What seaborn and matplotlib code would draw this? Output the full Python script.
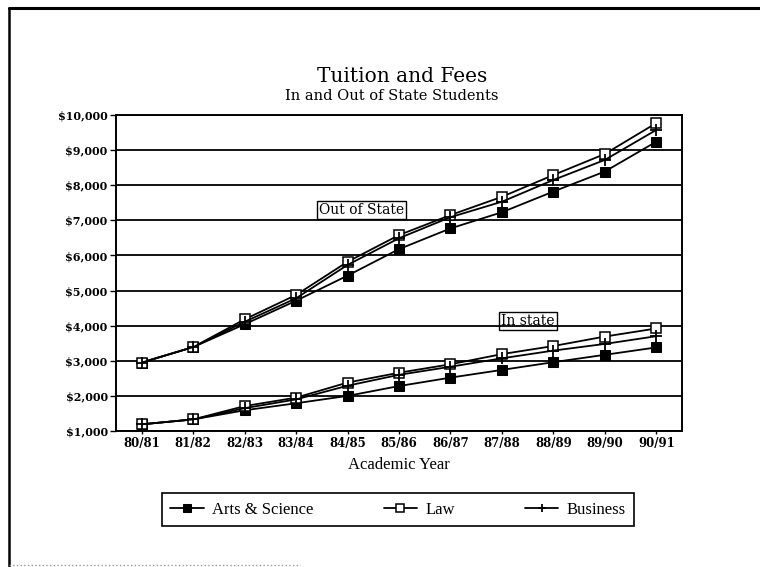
import pandas as pd
import seaborn as sns
import matplotlib.pyplot as plt
import matplotlib.ticker as ticker
from matplotlib.lines import Line2D

#Academic years on the x axis
years = ["80/81", "81/82", "82/83", "83/84", "84/85", "85/86",
         "86/87", "87/88", "88/89", "89/90", "90/91"]

#Out of state tuition and fees
arts_out = [2950, 3390, 4040, 4710, 5425, 6180, 6770, 7230, 7820, 8390, 9240]
law_out = [2950, 3390, 4180, 4875, 5820, 6580, 7150, 7670, 8290, 8890, 9770]
business_out = [2950, 3390, 4110, 4780, 5730, 6490, 7090, 7530, 8150, 8720, 9575]

#In state tuition and fees
arts_in = [1190, 1330, 1590, 1790, 2000, 2280, 2520, 2740, 2960, 3170, 3380]
law_in = [1190, 1330, 1710, 1950, 2380, 2660, 2900, 3190, 3420, 3690, 3920]
business_in = [1190, 1330, 1650, 1900, 2290, 2600, 2830, 3070, 3290, 3480, 3700]

schools = ["Arts & Science", "Law", "Business"]

df = pd.DataFrame({
    "Year": years * 6,
    "Cost": arts_out + law_out + business_out + arts_in + law_in + business_in,
    "School": [s for s in schools for _ in years] * 2,
    "Residency": ["Out of State"] * 33 + ["In state"] * 33,
})

sns.set_theme(style="white")
plt.rcParams["font.family"] = ["DejaVu Serif"]

fig = plt.figure(figsize=(7.6, 5.67), dpi=100)
ax = fig.add_axes([116 / 760, 1 - 431 / 567, 566 / 760, 316 / 567])

#marker style per school
styles = {
    "Arts & Science": dict(marker="s", markersize=6.5, markerfacecolor="black", markeredgecolor="black"),
    "Law": dict(marker="s", markersize=7, markerfacecolor="white", markeredgecolor="black", markeredgewidth=1.1),
    "Business": dict(marker="+", markersize=8, markeredgecolor="black", markeredgewidth=1.3),
}

for school in schools:
    for residency in ["Out of State", "In state"]:
        sub = df[(df["School"] == school) & (df["Residency"] == residency)]
        sns.lineplot(
            data=sub, x="Year", y="Cost", ax=ax, color="black", linewidth=1.3,
            label=school if residency == "Out of State" else None,
            legend=False, zorder=3, **styles[school]
        )

#axes and grid
ax.set_xlim(-0.5, 10.5)
ax.set_ylim(1000, 10000)
ax.yaxis.set_major_locator(ticker.MultipleLocator(1000))
ax.yaxis.set_major_formatter(ticker.FuncFormatter(lambda x, pos: f"${int(x):,}"))
ax.yaxis.grid(True, color="black", linewidth=1.3)
ax.xaxis.grid(False)
for spine in ax.spines.values():
    spine.set_color("black")
    spine.set_linewidth(1.4)

ax.tick_params(axis="y", direction="out", length=4, width=1, color="black", pad=2, left=True)
ax.tick_params(axis="x", direction="out", length=2.5, width=1, color="black", pad=2, bottom=True)
for label in ax.get_yticklabels() + ax.get_xticklabels():
    label.set_fontweight("bold")
    label.set_fontsize(8)
    label.set_color("black")
for label in ax.get_xticklabels():
    label.set_fontsize(8.5)

ax.set_xlabel("Academic Year", family="Liberation Serif", fontsize=12, color="black", labelpad=5)
ax.set_ylabel("")

#labels for the two groups of lines
ax.text(4.27, 7300, "Out of State", ha="center", va="center", fontsize=10, color="black",
        bbox=dict(boxstyle="square,pad=0.15", fc="white", ec="black", lw=1), zorder=4)
ax.text(7.51, 4134, "In state", ha="center", va="center", fontsize=10, color="black",
        bbox=dict(boxstyle="square,pad=0.15", fc="none", ec="black", lw=1), zorder=4)

#titles
fig.text(402 / 760, 1 - 76 / 567, "Tuition and Fees", ha="center", va="center", fontsize=14.5, color="black")
fig.text(392 / 760, 1 - 96 / 567, "In and Out of State Students", ha="center", va="center", fontsize=10.5, color="black")

#legend box
handles, labels = ax.get_legend_handles_labels()
leg = ax.legend(
    handles, labels, ncol=3, mode="expand", loc="center",
    bbox_to_anchor=(46 / 566, -96 / 316, 472 / 566, 35 / 316),
    borderaxespad=0, fancybox=False, framealpha=1, edgecolor="black",
    prop={"family": "Liberation Serif", "size": 12}, markerscale=0.8,
    handlelength=2.0, handletextpad=0.5, borderpad=0.5,
)
leg.get_frame().set_linewidth(1.2)
for text in leg.get_texts():
    text.set_color("black")

#page border
fig.add_artist(Line2D([9 / 760, 1], [1 - 8 / 567, 1 - 8 / 567], transform=fig.transFigure, color="black", linewidth=2.2))
fig.add_artist(Line2D([9 / 760, 9 / 760], [0, 1 - 8 / 567], transform=fig.transFigure, color="black", linewidth=1.8))
fig.add_artist(Line2D([9 / 760, 300 / 760], [2 / 567, 2 / 567], transform=fig.transFigure, color="#999999", linewidth=1, linestyle=":"))

fig.savefig("out.png", dpi=100)
plt.close("all")
